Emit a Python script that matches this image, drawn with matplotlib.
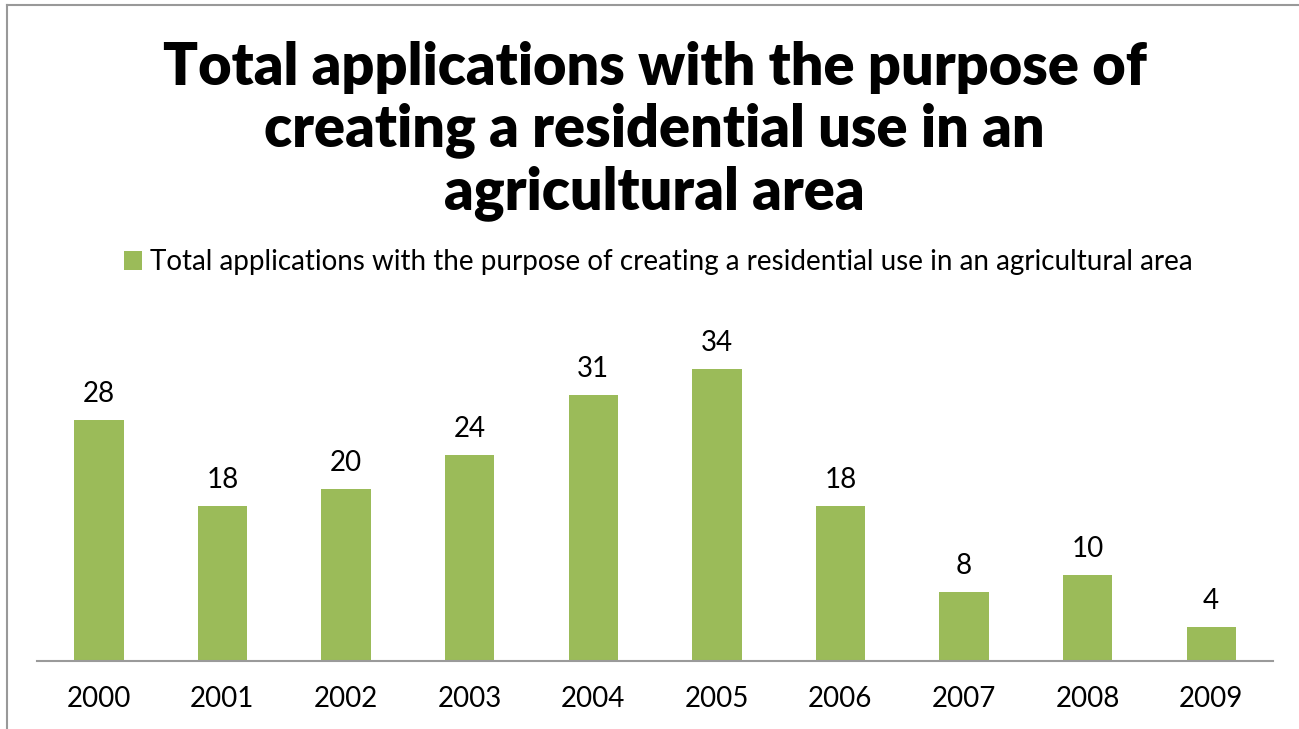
import matplotlib.pyplot as plt
from matplotlib.lines import Line2D
from matplotlib.patches import Patch

# Data
years = ["2000", "2001", "2002", "2003", "2004", "2005", "2006", "2007", "2008", "2009"]
applications = [28, 18, 20, 24, 31, 34, 18, 8, 10, 4]

title = "Total applications with the purpose of\ncreating a residential use in an\nagricultural area"
series_name = "Total applications with the purpose of creating a residential use in an agricultural area"
bar_color = "#9BBB59"

plt.rcParams['font.family'] = ['Lato', 'DejaVu Sans']

fig = plt.figure(figsize=(12.99, 7.29), dpi=100)
ax = fig.add_axes([0.0285, 0.0933, 0.9515, 0.4952])

x = range(len(years))
bars = ax.bar(x, applications, width=0.4, color=bar_color)
for xi, v in zip(x, applications):
    ax.text(xi, v + 1.5, str(v), ha="center", va="bottom", fontsize=20)

ax.set_xlim(-0.5, len(years) - 0.5)
ax.set_ylim(0, 42)
ax.set_xticks(list(x))
ax.set_xticklabels(years, fontsize=20)
ax.tick_params(axis="x", length=0, pad=18)
ax.set_yticks([])
for side in ["top", "right", "left"]:
    ax.spines[side].set_visible(False)
ax.spines["bottom"].set_color("#9a9a9a")
ax.spines["bottom"].set_linewidth(1.5)

# Title
fig.text(0.504, 0.82, title, ha="center", va="center", fontsize=41.5,
         fontweight="heavy", linespacing=1.17)

# Legend
handle = Patch(facecolor=bar_color, edgecolor="none")
fig.legend([handle], [series_name], loc="center", bbox_to_anchor=(0.507, 0.64),
           frameon=False, fontsize=20, handlelength=0.65, handleheight=0.65,
           handletextpad=0.3)

# Outer frame lines (top and left)
fig.add_artist(Line2D([7 / 1299, 1], [1 - 5 / 729, 1 - 5 / 729], color="#999999", lw=1.5))
fig.add_artist(Line2D([7 / 1299, 7 / 1299], [0, 1 - 5 / 729], color="#999999", lw=1.5))

fig.savefig("out.png", dpi=100)
